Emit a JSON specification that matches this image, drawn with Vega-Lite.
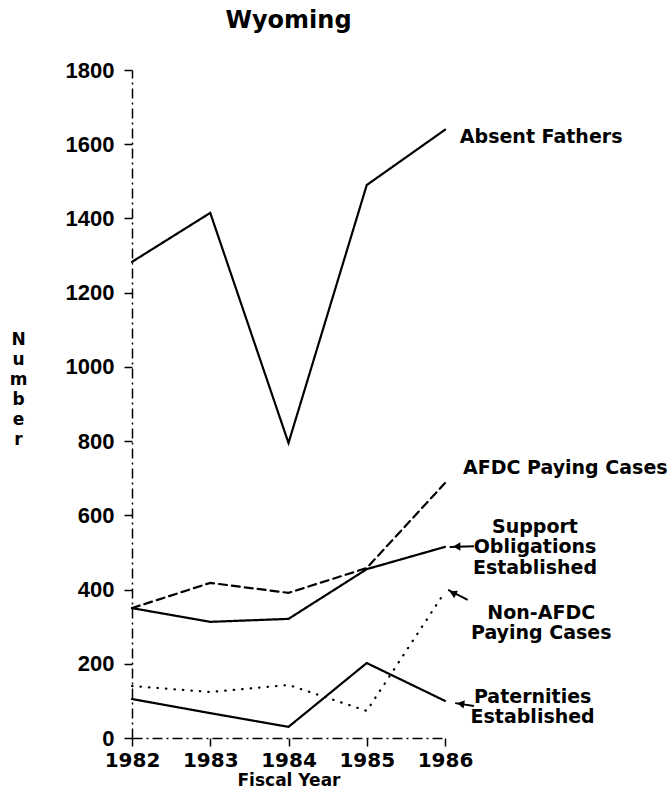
{
  "$schema": "https://vega.github.io/schema/vega-lite/v6.json",
  "autosize": {"type": "none"},
  "padding": {"left": 132, "top": 70, "right": 227, "bottom": 62},
  "width": 313,
  "height": 668,
  "background": "white",
  "title": {"text": "Wyoming", "font": "DejaVu Sans", "fontSize": 24, "fontWeight": "bold", "color": "black", "anchor": "middle", "offset": 26},
  "config": {"view": {"stroke": null}},
  "datasets": {
    "series": [
      {"series": "Absent Fathers", "year": 1982, "value": 1283},
      {"series": "Absent Fathers", "year": 1983, "value": 1415},
      {"series": "Absent Fathers", "year": 1984, "value": 795},
      {"series": "Absent Fathers", "year": 1985, "value": 1490},
      {"series": "Absent Fathers", "year": 1986, "value": 1639},
      {"series": "AFDC Paying Cases", "year": 1982, "value": 350},
      {"series": "AFDC Paying Cases", "year": 1983, "value": 418},
      {"series": "AFDC Paying Cases", "year": 1984, "value": 391},
      {"series": "AFDC Paying Cases", "year": 1985, "value": 458},
      {"series": "AFDC Paying Cases", "year": 1986, "value": 687},
      {"series": "Support Obligations Established", "year": 1982, "value": 350},
      {"series": "Support Obligations Established", "year": 1983, "value": 313},
      {"series": "Support Obligations Established", "year": 1984, "value": 321},
      {"series": "Support Obligations Established", "year": 1985, "value": 455},
      {"series": "Support Obligations Established", "year": 1986, "value": 515},
      {"series": "Non-AFDC Paying Cases", "year": 1982, "value": 140},
      {"series": "Non-AFDC Paying Cases", "year": 1983, "value": 124},
      {"series": "Non-AFDC Paying Cases", "year": 1984, "value": 143},
      {"series": "Non-AFDC Paying Cases", "year": 1985, "value": 73},
      {"series": "Non-AFDC Paying Cases", "year": 1986, "value": 394},
      {"series": "Paternities Established", "year": 1982, "value": 105},
      {"series": "Paternities Established", "year": 1983, "value": 67},
      {"series": "Paternities Established", "year": 1984, "value": 30},
      {"series": "Paternities Established", "year": 1985, "value": 202},
      {"series": "Paternities Established", "year": 1986, "value": 100}
    ],
    "leftLabels": [
      {"label": "Absent Fathers", "x": 1986.19, "y": 1619},
      {"label": "AFDC Paying Cases", "x": 1986.23, "y": 727}
    ],
    "centerLabels": [
      {"label": "Support\nObligations\nEstablished", "x": 1987.15, "y": 569},
      {"label": "Non-AFDC\nPaying Cases", "x": 1987.23, "y": 337},
      {"label": "Paternities\nEstablished", "x": 1987.12, "y": 111}
    ],
    "arrows": [
      {"x": 1986.37, "y": 517, "x2": 1986.06, "y2": 515, "hx": 1986.15, "hy": 516, "angle": 0},
      {"x": 1986.29, "y": 372, "x2": 1986.04, "y2": 399, "hx": 1986.10, "hy": 391, "angle": 27},
      {"x": 1986.37, "y": 86, "x2": 1986.13, "y2": 94, "hx": 1986.20, "hy": 92, "angle": 9}
    ]
  },
  "layer": [
    {
      "data": {"name": "series"},
      "mark": {"type": "line", "color": "black", "strokeWidth": 2.2, "strokeCap": "round"},
      "encoding": {
        "x": {
          "field": "year", "type": "quantitative",
          "scale": {"domain": [1982, 1986], "nice": false, "zero": false},
          "axis": {
            "values": [1982, 1983, 1984, 1985, 1986], "format": "d", "title": "Fiscal Year",
            "labelOverlap": false, "labelFlush": false, "labelBound": false,
            "grid": false, "domainColor": "black", "domainWidth": 1.5, "domainDash": [10, 4, 2, 4],
            "tickColor": "black", "tickWidth": 1.5, "tickSize": 8,
            "labelFont": "DejaVu Sans", "labelFontSize": 20, "labelFontWeight": "bold", "labelColor": "black", "labelPadding": 4,
            "titleFont": "DejaVu Sans", "titleFontSize": 17, "titleFontWeight": "bold", "titleColor": "black", "titlePadding": 2
          }
        },
        "y": {
          "field": "value", "type": "quantitative",
          "scale": {"domain": [0, 1800], "nice": false},
          "axis": {
            "values": [0, 200, 400, 600, 800, 1000, 1200, 1400, 1600, 1800], "format": "d",
            "labelOverlap": false,
            "grid": false, "domainColor": "black", "domainWidth": 1.5, "domainDash": [10, 4, 2, 4],
            "tickColor": "black", "tickWidth": 1.5, "tickSize": 8,
            "labelFont": "Liberation Sans", "labelFontSize": 22, "labelFontWeight": "bold", "labelColor": "black", "labelPadding": 10,
            "title": ["N", "u", "m", "b", "e", "r"], "titleAngle": 0, "titleX": -114, "titleY": 261,
            "titleAlign": "center", "titleBaseline": "top", "titleLineHeight": 20,
            "titleFont": "DejaVu Sans", "titleFontSize": 17, "titleFontWeight": "bold", "titleColor": "black"
          }
        },
        "detail": {"field": "series"},
        "strokeDash": {
          "field": "series", "type": "nominal", "legend": null,
          "scale": {
            "domain": ["Absent Fathers", "AFDC Paying Cases", "Support Obligations Established", "Non-AFDC Paying Cases", "Paternities Established"],
            "range": [[1, 0], [8, 5], [1, 0], [0.5, 8], [1, 0]]
          }
        }
      }
    },
    {
      "data": {"name": "arrows"},
      "mark": {"type": "rule", "color": "black", "strokeWidth": 2},
      "encoding": {
        "x": {"field": "x", "type": "quantitative"},
        "y": {"field": "y", "type": "quantitative"},
        "x2": {"field": "x2"},
        "y2": {"field": "y2"}
      }
    },
    {
      "data": {"name": "arrows"},
      "mark": {"type": "point", "shape": "triangle-left", "filled": true, "color": "black", "size": 70, "opacity": 1},
      "encoding": {
        "x": {"field": "hx", "type": "quantitative"},
        "y": {"field": "hy", "type": "quantitative"},
        "angle": {"field": "angle", "type": "quantitative", "scale": null}
      }
    },
    {
      "data": {"name": "leftLabels"},
      "mark": {"type": "text", "align": "left", "baseline": "middle", "font": "DejaVu Sans", "fontSize": 19, "fontWeight": "bold", "color": "black"},
      "encoding": {
        "x": {"field": "x", "type": "quantitative"},
        "y": {"field": "y", "type": "quantitative"},
        "text": {"field": "label", "type": "nominal"}
      }
    },
    {
      "data": {"name": "centerLabels"},
      "mark": {"type": "text", "align": "center", "baseline": "middle", "lineBreak": "\n", "lineHeight": 20.5, "font": "DejaVu Sans", "fontSize": 19, "fontWeight": "bold", "color": "black"},
      "encoding": {
        "x": {"field": "x", "type": "quantitative"},
        "y": {"field": "y", "type": "quantitative"},
        "text": {"field": "label", "type": "nominal"}
      }
    }
  ]
}
